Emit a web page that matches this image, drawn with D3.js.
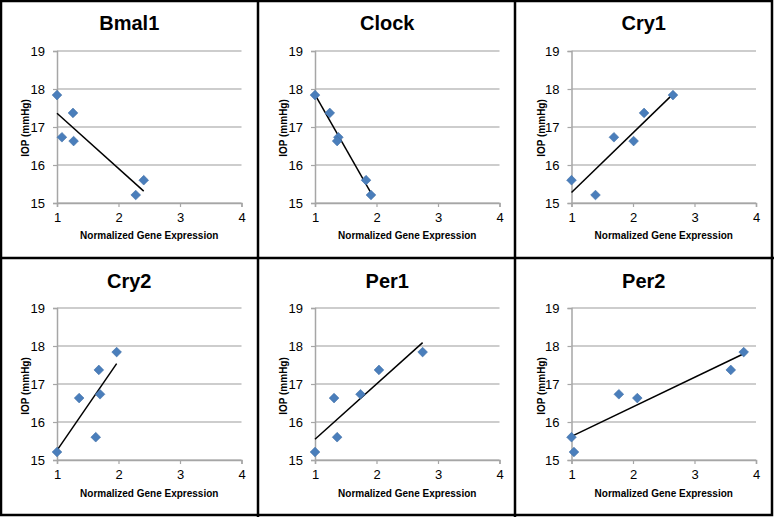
<!DOCTYPE html>
<html><head><meta charset="utf-8">
<script src="https://cdn.jsdelivr.net/npm/d3@7"></script>
<style>html,body{margin:0;padding:0;background:#fff;}svg{display:block;}</style>
</head><body>
<svg id="chart" width="774" height="517"></svg>
<script>
const genes = ["Bmal1", "Clock", "Cry1", "Cry2", "Per1", "Per2"];
const xTicks = [1, 2, 3, 4];
const yTicks = [15, 16, 17, 18, 19];
const bmal1X = [1.00, 1.08, 1.26, 1.27, 2.28, 2.41];
const bmal1Y = [17.84, 16.73, 17.37, 16.63, 15.21, 15.60];
const clockX = [1.00, 1.24, 1.38, 1.36, 1.83, 1.91];
const clockY = [17.84, 17.37, 16.73, 16.63, 15.60, 15.21];
const cry1X = [1.00, 1.39, 1.69, 2.01, 2.18, 2.65];
const cry1Y = [15.60, 15.21, 16.73, 16.63, 17.37, 17.84];
const cry2X = [1.00, 1.36, 1.63, 1.68, 1.70, 1.97];
const cry2Y = [15.21, 16.63, 15.60, 17.37, 16.73, 17.84];
const per1X = [1.00, 1.31, 1.36, 1.74, 2.04, 2.75];
const per1Y = [15.21, 16.63, 15.60, 16.73, 17.37, 17.84];
const per2X = [1.00, 1.04, 1.77, 2.07, 3.59, 3.80];
const per2Y = [15.60, 15.21, 16.73, 16.63, 17.37, 17.84];
const seriesX = [bmal1X, clockX, cry1X, cry2X, per1X, per2X];
const seriesY = [bmal1Y, clockY, cry1Y, cry2Y, per1Y, per2Y];
const xTitle = "Normalized Gene Expression";
const yTitle = "IOP (mmHg)";

const svg = d3.select("#chart");
const font = "'Liberation Sans', Arial, sans-serif";
const cellW = 258, cellH = 258;
const plotLeft = [57, 57, 55.5], plotTop = [51, 50];
const plotW = 184.5, plotH = 152;

genes.forEach((g, i) => {
  const c = i % 3, r = Math.floor(i / 3);
  const ox = c * cellW, oy = r * cellH;
  const px = ox + plotLeft[c], py = oy + plotTop[r];
  const x = d3.scaleLinear().domain([1, 4]).range([0, plotW]);
  const y = d3.scaleLinear().domain([15, 19]).range([plotH, 0]);
  const gp = svg.append("g").attr("transform", `translate(${px},${py})`);

  // gridlines
  gp.selectAll("line.grid").data(yTicks).enter().append("line")
    .attr("x1", 0).attr("x2", plotW)
    .attr("y1", d => y(d)).attr("y2", d => y(d))
    .attr("stroke", "#bdbdbd").attr("stroke-width", 1.5);

  // axes
  const xa = gp.append("g").attr("transform", `translate(0,${plotH})`)
    .call(d3.axisBottom(x).tickValues(xTicks).tickSize(4).tickPadding(6).tickFormat(d3.format("d")));
  const ya = gp.append("g")
    .call(d3.axisLeft(y).tickValues(yTicks).tickSize(4).tickPadding(8).tickFormat(d3.format("d")));
  [xa, ya].forEach(a => {
    a.select(".domain").attr("stroke", "#a6a6a6").attr("stroke-width", 1.5);
    a.selectAll(".tick line").attr("stroke", "#a6a6a6").attr("stroke-width", 1.2);
    a.selectAll("text").attr("font-family", font).attr("font-size", 13).attr("fill", "#000");
  });

  // trendline (least squares, from min to max x)
  const xs = seriesX[i], ys = seriesY[i];
  const mx = d3.mean(xs), my = d3.mean(ys);
  const slope = d3.sum(xs, (v, k) => (v - mx) * (ys[k] - my)) / d3.sum(xs, v => (v - mx) * (v - mx));
  const x0 = d3.min(xs), x1 = d3.max(xs);
  gp.append("line")
    .attr("x1", x(x0)).attr("y1", y(my + slope * (x0 - mx)))
    .attr("x2", x(x1)).attr("y2", y(my + slope * (x1 - mx)))
    .attr("stroke", "#000").attr("stroke-width", 1.5);

  // markers
  const pts = xs.map((v, k) => [v, ys[k]]);
  gp.selectAll("path.pt").data(pts).enter().append("path")
    .attr("d", d3.symbol().type(d3.symbolDiamond2).size(60))
    .attr("transform", d => `translate(${x(d[0])},${y(d[1])})`)
    .attr("fill", "#4a7ebb").attr("stroke", "#3f6ea6").attr("stroke-width", 0.6);

  // titles
  svg.append("text").attr("x", px + plotW / 2 - 20).attr("y", oy + 30)
    .attr("text-anchor", "middle").attr("font-family", font).attr("font-weight", "bold")
    .attr("font-size", 20).text(g);
  svg.append("text").attr("x", px + plotW / 2).attr("y", oy + 239)
    .attr("text-anchor", "middle").attr("font-family", font).attr("font-weight", "bold")
    .attr("font-size", 10).text(xTitle);
  svg.append("text").attr("transform", `translate(${ox + 29},${oy + 128}) rotate(-90)`)
    .attr("text-anchor", "middle").attr("font-family", font).attr("font-weight", "bold")
    .attr("font-size", 10).text(yTitle);
});

// frame and dividers
svg.append("rect").attr("x", 1).attr("y", 1).attr("width", 771).attr("height", 514)
  .attr("fill", "none").attr("stroke", "#000").attr("stroke-width", 2.5);
[258, 515].forEach(vx => svg.append("line").attr("x1", vx).attr("x2", vx).attr("y1", 0).attr("y2", 517)
  .attr("stroke", "#000").attr("stroke-width", 2.5));
svg.append("line").attr("x1", 0).attr("x2", 774).attr("y1", 258).attr("y2", 258)
  .attr("stroke", "#000").attr("stroke-width", 2.5);
</script>
</body></html>
